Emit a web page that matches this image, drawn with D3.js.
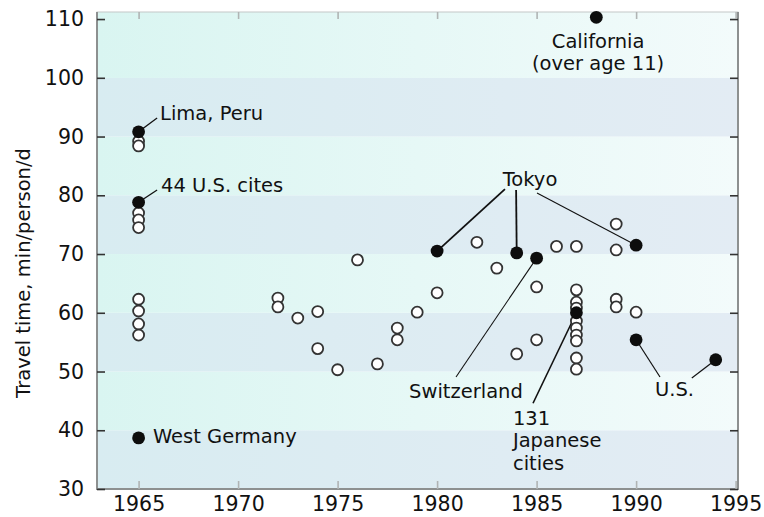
<!DOCTYPE html>
<html>
<head>
<meta charset="utf-8">
<script src="https://cdn.jsdelivr.net/npm/d3@7"></script>
<style>
  body { margin: 0; background: #fff; }
  text { font-family: "DejaVu Sans", sans-serif; fill: #111; }
</style>
</head>
<body>
<div id="chart"></div>
<script>
// travel time budget, minutes per person per day
var openPoints = [
  [1965, 89.2], [1965, 88.4], [1965, 77.0], [1965, 75.8], [1965, 74.5],
  [1965, 62.3], [1965, 60.3], [1965, 58.1], [1965, 56.2],
  [1972, 62.5], [1972, 61.0], [1973, 59.1], [1974, 60.2], [1974, 53.9],
  [1975, 50.3], [1976, 69.0], [1977, 51.3], [1978, 57.4], [1978, 55.4],
  [1979, 60.1], [1980, 63.4], [1982, 72.0], [1983, 67.6], [1984, 53.0],
  [1985, 64.4], [1985, 55.4], [1986, 71.3],
  [1987, 71.3], [1987, 63.9], [1987, 61.8], [1987, 60.8], [1987, 58.6],
  [1987, 57.4], [1987, 56.2], [1987, 55.2], [1987, 52.3], [1987, 50.4],
  [1989, 75.1], [1989, 70.7], [1989, 62.3], [1989, 61.0], [1990, 60.1]
];
var filledPoints = [
  [1965, 90.8], [1965, 78.8], [1965, 38.7], [1988, 110.3],
  [1980, 70.5], [1984, 70.2], [1990, 71.5], [1985, 69.3],
  [1987, 60.0], [1990, 55.4], [1994, 52.0]
];
var yearTicks = [1965, 1970, 1975, 1980, 1985, 1990, 1995];
var timeTicks = [30, 40, 50, 60, 70, 80, 90, 100, 110];
var bandEdges = [30, 40, 50, 60, 70, 80, 90, 100];

// labels placed in data units; "pt" is the index into filledPoints
var labels = [
  {lines: ["Lima, Peru"], at: [1966.08, 92.8], anchor: "start"},
  {lines: ["44 U.S. cites"], at: [1966.13, 80.55], anchor: "start"},
  {lines: ["West Germany"], at: [1965.72, 37.85], anchor: "start"},
  {lines: ["California", "(over age 11)"], at: [1988.09, 105.06], anchor: "middle"},
  {lines: ["Tokyo"], at: [1984.67, 81.57], anchor: "middle"},
  {lines: ["Switzerland"], at: [1981.45, 45.5], anchor: "middle"},
  {lines: ["131", "Japanese", "cities"], at: [1983.81, 40.9], anchor: "start"},
  {lines: ["U.S."], at: [1990.95, 45.8], anchor: "start"}
];
var leaders = [
  {from: [1965.93, 93.15], pt: 0, w: 1.3},
  {from: [1965.93, 80.9], pt: 1, w: 1.3},
  {from: [1983.41, 81.06], pt: 4, w: 1.8},
  {from: [1983.97, 80.9], pt: 5, w: 1.8},
  {from: [1985.02, 80.4], pt: 6, w: 1.1},
  {from: [1980.95, 49.06], pt: 7, w: 1.1},
  {from: [1984.82, 44.6], pt: 8, w: 1.6},
  {from: [1991.2, 49.06], pt: 9, w: 1.2},
  {from: [1992.8, 48.9], pt: 10, w: 1.2}
];

var width = 764, height = 517;
var plotL = 97, plotR = 738, plotT = 12, plotB = 489;

var x = d3.scaleLinear().domain([1962.91, 1995.12]).range([plotL, plotR]);
var y = d3.scaleLinear().domain([30, 111.2]).range([plotB, plotT]);

var svg = d3.select("#chart").append("svg")
  .attr("width", width)
  .attr("height", height);

var defs = svg.append("defs");
var g1 = defs.append("linearGradient").attr("id", "lightBand");
g1.append("stop").attr("offset", "0%").attr("stop-color", "#d9f5f1");
g1.append("stop").attr("offset", "100%").attr("stop-color", "#f3fbfb");
var g2 = defs.append("linearGradient").attr("id", "blueBand");
g2.append("stop").attr("offset", "0%").attr("stop-color", "#d8ecf1");
g2.append("stop").attr("offset", "100%").attr("stop-color", "#e3ecf4");

// top strip above 100
svg.append("rect")
  .attr("x", plotL).attr("y", plotT)
  .attr("width", plotR - plotL).attr("height", y(100) - plotT)
  .attr("fill", "url(#lightBand)");

svg.selectAll(".band")
  .data(bandEdges)
  .enter().append("rect")
  .attr("class", "band")
  .attr("x", plotL)
  .attr("y", d => y(d + 10))
  .attr("width", plotR - plotL)
  .attr("height", d => y(d) - y(d + 10))
  .attr("fill", (d, i) => i % 2 == 0 ? "url(#blueBand)" : "url(#lightBand)");

// frame
svg.append("rect")
  .attr("x", plotL).attr("y", plotT)
  .attr("width", plotR - plotL).attr("height", plotB - plotT)
  .attr("fill", "none").attr("stroke", "#c4c8c8").attr("stroke-width", 1);
svg.append("path")
  .attr("d", "M" + plotL + "," + plotT + "V" + plotB + "H" + plotR + "V" + plotT)
  .attr("fill", "none").attr("stroke", "#8d9090").attr("stroke-width", 2);

// axes
var yAxisL = d3.axisLeft(y).tickValues(timeTicks).tickSize(-8).tickPadding(13);
var yAxisR = d3.axisRight(y).tickValues(timeTicks).tickSize(-8).tickFormat("");
var xAxisB = d3.axisBottom(x).tickValues(yearTicks).tickSize(-8).tickPadding(7).tickFormat(d3.format("d"));
var xAxisT = d3.axisTop(x).tickValues(yearTicks).tickSize(-7).tickFormat("");

function styleAxis(sel, col) {
  sel.select(".domain").remove();
  sel.selectAll(".tick line").attr("stroke", col).attr("stroke-width", 1.6);
  sel.selectAll(".tick text").attr("font-size", 20.5).attr("fill", "#111")
    .style("font-family", "'DejaVu Sans', sans-serif");
}

svg.append("g").attr("transform", "translate(" + plotL + ",0)").call(yAxisL).call(styleAxis, "#333");
svg.append("g").attr("transform", "translate(" + plotR + ",0)").call(yAxisR).call(styleAxis, "#333");
svg.append("g").attr("transform", "translate(0," + plotB + ")").call(xAxisB).call(styleAxis, "#b0b4b4");
svg.append("g").attr("transform", "translate(0," + plotT + ")").call(xAxisT).call(styleAxis, "#b0b4b4");

svg.append("text")
  .attr("transform", "translate(30," + 273 + ") rotate(-90)")
  .attr("text-anchor", "middle")
  .attr("font-size", 19.5)
  .text("Travel time, min/person/d");

// leader lines
svg.selectAll(".leader")
  .data(leaders)
  .enter().append("line")
  .attr("class", "leader")
  .attr("x1", d => x(d.from[0]))
  .attr("y1", d => y(d.from[1]))
  .attr("x2", d => x(filledPoints[d.pt][0]))
  .attr("y2", d => y(filledPoints[d.pt][1]))
  .attr("stroke", "#111")
  .attr("stroke-width", d => d.w);

// open circles
svg.selectAll(".open")
  .data(openPoints)
  .enter().append("circle")
  .attr("class", "open")
  .attr("cx", d => x(d[0]))
  .attr("cy", d => y(d[1]))
  .attr("r", 5.5)
  .attr("fill", "#fff")
  .attr("stroke", "#333")
  .attr("stroke-width", 1.8);

// filled circles
svg.selectAll(".filled")
  .data(filledPoints)
  .enter().append("circle")
  .attr("class", "filled")
  .attr("cx", d => x(d[0]))
  .attr("cy", d => y(d[1]))
  .attr("r", 6.4)
  .attr("fill", "#0d0d0d");

// labels
var lab = svg.selectAll(".label")
  .data(labels)
  .enter().append("text")
  .attr("class", "label")
  .attr("x", d => x(d.at[0]))
  .attr("y", d => y(d.at[1]))
  .attr("text-anchor", d => d.anchor)
  .attr("font-size", 19.5);

lab.selectAll("tspan")
  .data(d => d.lines.map(t => ({t: t, x: x(d.at[0])})))
  .enter().append("tspan")
  .attr("x", d => d.x)
  .attr("dy", (d, i) => i == 0 ? 0 : "1.15em")
  .text(d => d.t);
</script>
</body>
</html>
